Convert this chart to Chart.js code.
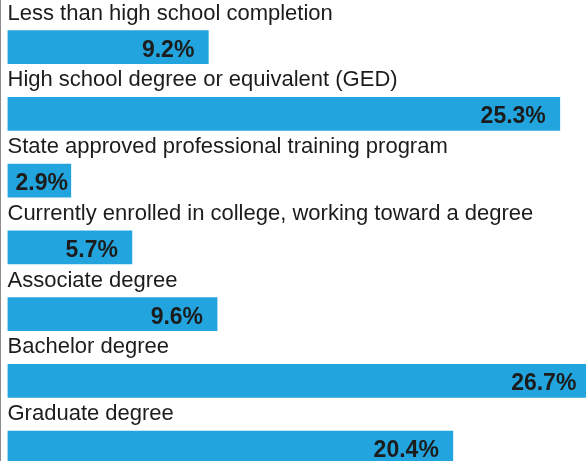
<!DOCTYPE html>
<html>
<head>
<meta charset="utf-8">
<script src="https://cdn.jsdelivr.net/npm/chart.js@4"></script>
<style>
  html, body { margin: 0; padding: 0; background: #fff; overflow: hidden; }
  #wrap { width: 585px; height: 481px; border-left: 1px solid #8c8c8c; }
</style>
</head>
<body>
<div id="wrap"><canvas id="edu-chart" width="585" height="481"></canvas></div>
<script>
const categories = [
  'Less than high school completion',
  'High school degree or equivalent (GED)',
  'State approved professional training program',
  'Currently enrolled in college, working toward a degree',
  'Associate degree',
  'Bachelor degree',
  'Graduate degree'
];
const percentages = [9.2, 25.3, 2.9, 5.7, 9.6, 26.7, 20.4];

const barColor = '#22a5de';
const textColor = '#1c1c1c';

// label above each bar + value at the bar's end
const barLabels = {
  id: 'barLabels',
  afterDatasetsDraw(chart) {
    const { ctx, chartArea } = chart;
    const meta = chart.getDatasetMeta(0);
    const xScale = chart.scales.x;
    ctx.save();
    meta.data.forEach((bar, i) => {
      const top = bar.y - bar.height / 2;

      ctx.font = '22px "Liberation Sans", Arial, sans-serif';
      ctx.fillStyle = textColor;
      ctx.textAlign = 'left';
      ctx.textBaseline = 'alphabetic';
      ctx.fillText(categories[i], chartArea.left, top - 11);

      ctx.font = 'bold 23px "Liberation Sans", Arial, sans-serif';
      const label = percentages[i].toFixed(1) + '%';
      const w = ctx.measureText(label).width;
      const end = xScale.getPixelForValue(percentages[i]);
      const right = Math.max(end - 14, chartArea.left + 8 + w);
      ctx.textAlign = 'right';
      ctx.fillText(label, right, bar.y + 9.5);
    });
    ctx.restore();
  }
};

new Chart(document.getElementById('edu-chart'), {
  type: 'bar',
  data: {
    labels: categories,
    datasets: [{
      data: percentages,
      backgroundColor: barColor,
      borderWidth: 0,
      barThickness: 33
    }]
  },
  options: {
    indexAxis: 'y',
    responsive: false,
    animation: false,
    layout: { padding: { left: 6.5, right: 0, top: 13.75, bottom: 0 } },
    plugins: {
      legend: { display: false },
      tooltip: { enabled: false }
    },
    scales: {
      x: { display: false, min: 0, max: 26.5 },
      y: { display: false }
    }
  },
  plugins: [barLabels]
});
</script>
</body>
</html>
